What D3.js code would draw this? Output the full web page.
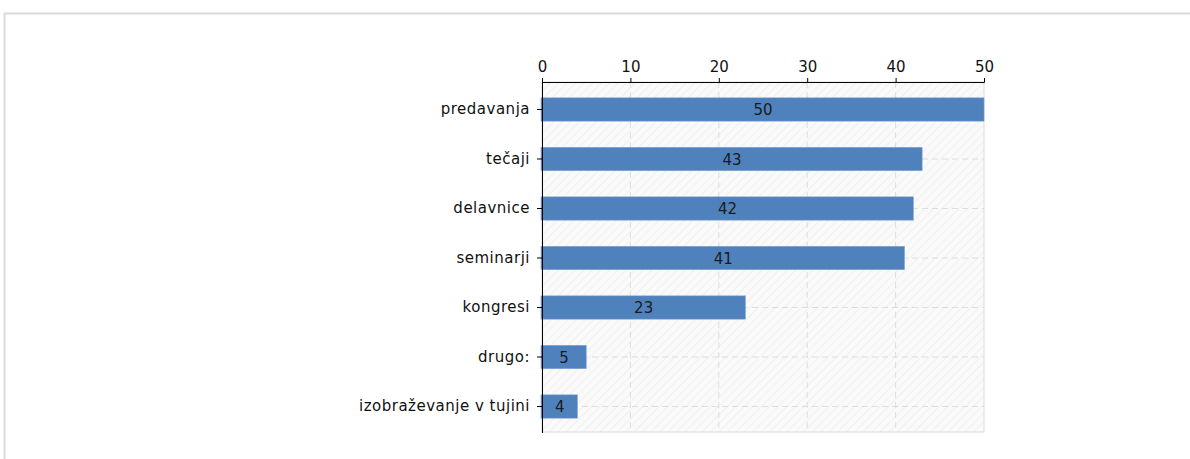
<!DOCTYPE html>
<html>
<head>
<meta charset="utf-8">
<script src="https://cdn.jsdelivr.net/npm/d3@7"></script>
<style>
  body { margin: 0; background: #fff; }
  svg { display: block; }
</style>
</head>
<body>
<div id="vis"></div>
<script>
const categories = [
  'predavanja', 'tečaji', 'delavnice', 'seminarji',
  'kongresi', 'drugo:', 'izobraževanje v tujini'
];
const values = [50, 43, 42, 41, 23, 5, 4];
const xTicks = [0, 10, 20, 30, 40, 50];

const W = 1190, H = 459;
const margin = { top: 82, left: 542, right: 206, bottom: 27 };
const width = W - margin.left - margin.right;
const height = H - margin.top - margin.bottom;
const font = 'DejaVu Sans, Verdana, sans-serif';

const svg = d3.select('#vis').append('svg')
  .attr('width', W)
  .attr('height', H)
  .style('font-family', font);

// outer frame
svg.append('rect')
  .attr('x', 4.5).attr('y', 13.5)
  .attr('width', W).attr('height', H)
  .attr('fill', 'none')
  .attr('stroke', '#d9d9d9')
  .attr('stroke-width', 2);

const defs = svg.append('defs');
const pat = defs.append('pattern')
  .attr('id', 'hatch')
  .attr('patternUnits', 'userSpaceOnUse')
  .attr('width', 6).attr('height', 6)
  .attr('patternTransform', 'rotate(45)');
pat.append('line')
  .attr('x1', 0).attr('y1', 0).attr('x2', 0).attr('y2', 6)
  .attr('stroke', '#ececec').attr('stroke-width', 1.5);

const g = svg.append('g')
  .attr('transform', 'translate(' + margin.left + ',' + margin.top + ')');

const x = d3.scaleLinear().domain([0, 50]).range([0, width]);
const y = d3.scaleBand().domain(categories).range([1, height + 1])
  .paddingInner(0.53).paddingOuter(0.3);

// plot background
g.append('rect')
  .attr('width', width).attr('height', height)
  .attr('fill', '#fafafa');
g.append('rect')
  .attr('width', width).attr('height', height)
  .attr('fill', 'url(#hatch)')
  .attr('stroke', '#dcdcdc');

// grid
g.append('g').selectAll('line')
  .data(xTicks.slice(1, -1))
  .join('line')
  .attr('x1', d => x(d)).attr('x2', d => x(d))
  .attr('y1', 0).attr('y2', height)
  .attr('stroke', '#dddddd')
  .attr('stroke-dasharray', '6,4');
g.append('g').selectAll('line')
  .data(categories)
  .join('line')
  .attr('x1', 0).attr('x2', width)
  .attr('y1', d => y(d) + y.bandwidth() / 2)
  .attr('y2', d => y(d) + y.bandwidth() / 2)
  .attr('stroke', '#dddddd')
  .attr('stroke-dasharray', '6,4');

// bars
g.append('g').selectAll('rect')
  .data(values)
  .join('rect')
  .attr('x', -1)
  .attr('y', (d, i) => y(categories[i]))
  .attr('width', d => x(d) + 1)
  .attr('height', y.bandwidth())
  .attr('fill', '#4f81bd')
  .attr('stroke', '#7a9fd0')
  .attr('stroke-width', 0.6);

// value labels
g.append('g').selectAll('text')
  .data(values)
  .join('text')
  .attr('x', d => x(d) / 2)
  .attr('y', (d, i) => y(categories[i]) + y.bandwidth() / 2)
  .attr('dy', '0.37em')
  .attr('text-anchor', 'middle')
  .attr('font-size', 15)
  .attr('fill', '#1a1a1a')
  .text(d => d);

// axes
const xAxis = g.append('g')
  .call(d3.axisTop(x).tickValues(xTicks).tickSize(4).tickSizeOuter(4).tickPadding(6));
xAxis.select('.domain').attr('stroke', '#000');
xAxis.selectAll('text').attr('font-size', 15).attr('fill', '#111')
  .style('font-family', font);

const yAxis = g.append('g')
  .call(d3.axisLeft(y).tickSize(5).tickSizeOuter(0).tickPadding(7));
yAxis.select('.domain').attr('stroke', '#000').attr('d', 'M0.5,0V' + (height + 1));
yAxis.selectAll('text').attr('font-size', 15).attr('fill', '#111')
  .attr('letter-spacing', 0.5)
  .style('font-family', font);
</script>
</body>
</html>
